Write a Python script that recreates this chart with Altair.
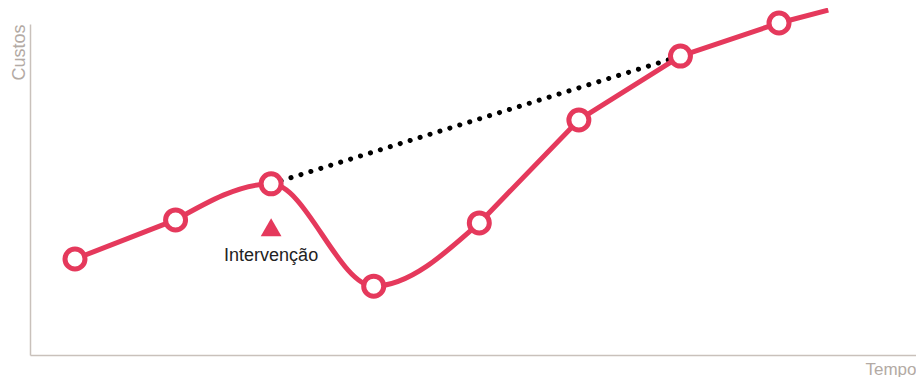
import altair as alt
import pandas as pd

# Main cost curve (Tempo vs Custos); last point has no marker
tempo = [1, 2, 2.95, 3.97, 5.02, 6.01, 7.02, 8.0, 8.49]
custos = [29.0, 40.8, 51.7, 20.8, 39.9, 71.0, 90.3, 100.3, 104.2]
marcado = [True, True, True, True, True, True, True, True, False]
# Which stretch each point belongs to: the dip around the intervention is smooth,
# the rest of the path is straight
trecho_reto_a = [0, 1]
trecho_curvo = [1, 2, 3, 4]
trecho_reto_b = [4, 5, 6, 7, 8]

# Counterfactual dotted trend (from intervention to recovery)
tendencia_tempo = [2.95, 7.02]
tendencia_custos = [51.7, 90.3]

# Intervention marker
intervencao_tempo = [2.95]
intervencao_custos = [38.6]
intervencao_rotulo = ["Intervenção"]
rotulo_custos = [28.4]

RED = "#E5395C"
AXIS = "#C9C1BB"
TITLE = "#B3AAA4"

df = pd.DataFrame({"tempo": tempo, "custos": custos, "marcado": marcado})
df_pts = df[df["marcado"]]
df_straight = pd.concat([
    df.iloc[trecho_reto_a].assign(grupo="a"),
    df.iloc[trecho_reto_b].assign(grupo="b"),
])
df_curve = df.iloc[trecho_curvo]
df_trend = pd.DataFrame({"tempo": tendencia_tempo, "custos": tendencia_custos})
df_int = pd.DataFrame({"tempo": intervencao_tempo, "custos": intervencao_custos})
df_lab = pd.DataFrame({"tempo": intervencao_tempo, "custos": rotulo_custos, "rotulo": intervencao_rotulo})

xs = alt.Scale(domain=[0.5526, 9.362], nice=False, zero=False)
ys = alt.Scale(domain=[0, 100], nice=False, zero=False)

xenc = alt.X("tempo:Q", scale=xs, axis=alt.Axis(
    title="Tempo", domain=True, ticks=False, labels=False, grid=False,
    domainColor=AXIS, domainWidth=1.5, titleColor=TITLE, titleFont="Liberation Sans",
    titleFontSize=17, titleFontWeight="normal", titleAnchor="end", titleAlign="right",
    titleX=886, titleY=19, titleBaseline="alphabetic"))
yenc = alt.Y("custos:Q", scale=ys, axis=alt.Axis(
    title="Custos", domain=True, ticks=False, labels=False, grid=False,
    domainColor=AXIS, domainWidth=1.5, titleColor=TITLE, titleFont="Liberation Sans",
    titleFontSize=18, titleFontWeight="normal", titleAngle=270, titleAlign="right",
    titleX=-6, titleY=0, titleBaseline="alphabetic"))

X = alt.X("tempo:Q", scale=xs)
Y = alt.Y("custos:Q", scale=ys)

trend = alt.Chart(df_trend).mark_line(
    color="#000000", strokeWidth=5, strokeDash=[0.1, 10.3], strokeCap="round"
).encode(x=X, y=Y)

line_straight = alt.Chart(df_straight).mark_line(
    color=RED, strokeWidth=5, strokeJoin="round"
).encode(x=xenc, y=yenc, detail="grupo:N")

line_curve = alt.Chart(df_curve).mark_line(
    color=RED, strokeWidth=5, interpolate="monotone"
).encode(x=X, y=Y)

points = alt.Chart(df_pts).mark_point(
    shape="circle", filled=True, fill="white", stroke=RED, strokeWidth=5, size=400, opacity=1
).encode(x=X, y=Y)

tri = alt.Chart(df_int).mark_point(
    shape="triangle-up", filled=True, color=RED, size=430, opacity=1
).encode(x=X, y=Y)

label = alt.Chart(df_lab).mark_text(
    font="Liberation Sans", fontSize=18, color="#222222", baseline="alphabetic", align="center"
).encode(x=X, y=Y, text="rotulo:N")

chart = alt.layer(trend, line_straight, line_curve, points, tri, label).properties(
    width=886, height=331,
    autosize=alt.AutoSizeParams(type="none"),
    padding={"left": 22, "top": 16, "right": 0, "bottom": 22},
).configure_view(stroke=None)

chart.save("out.html", embed_options={"renderer": "svg", "actions": False})
